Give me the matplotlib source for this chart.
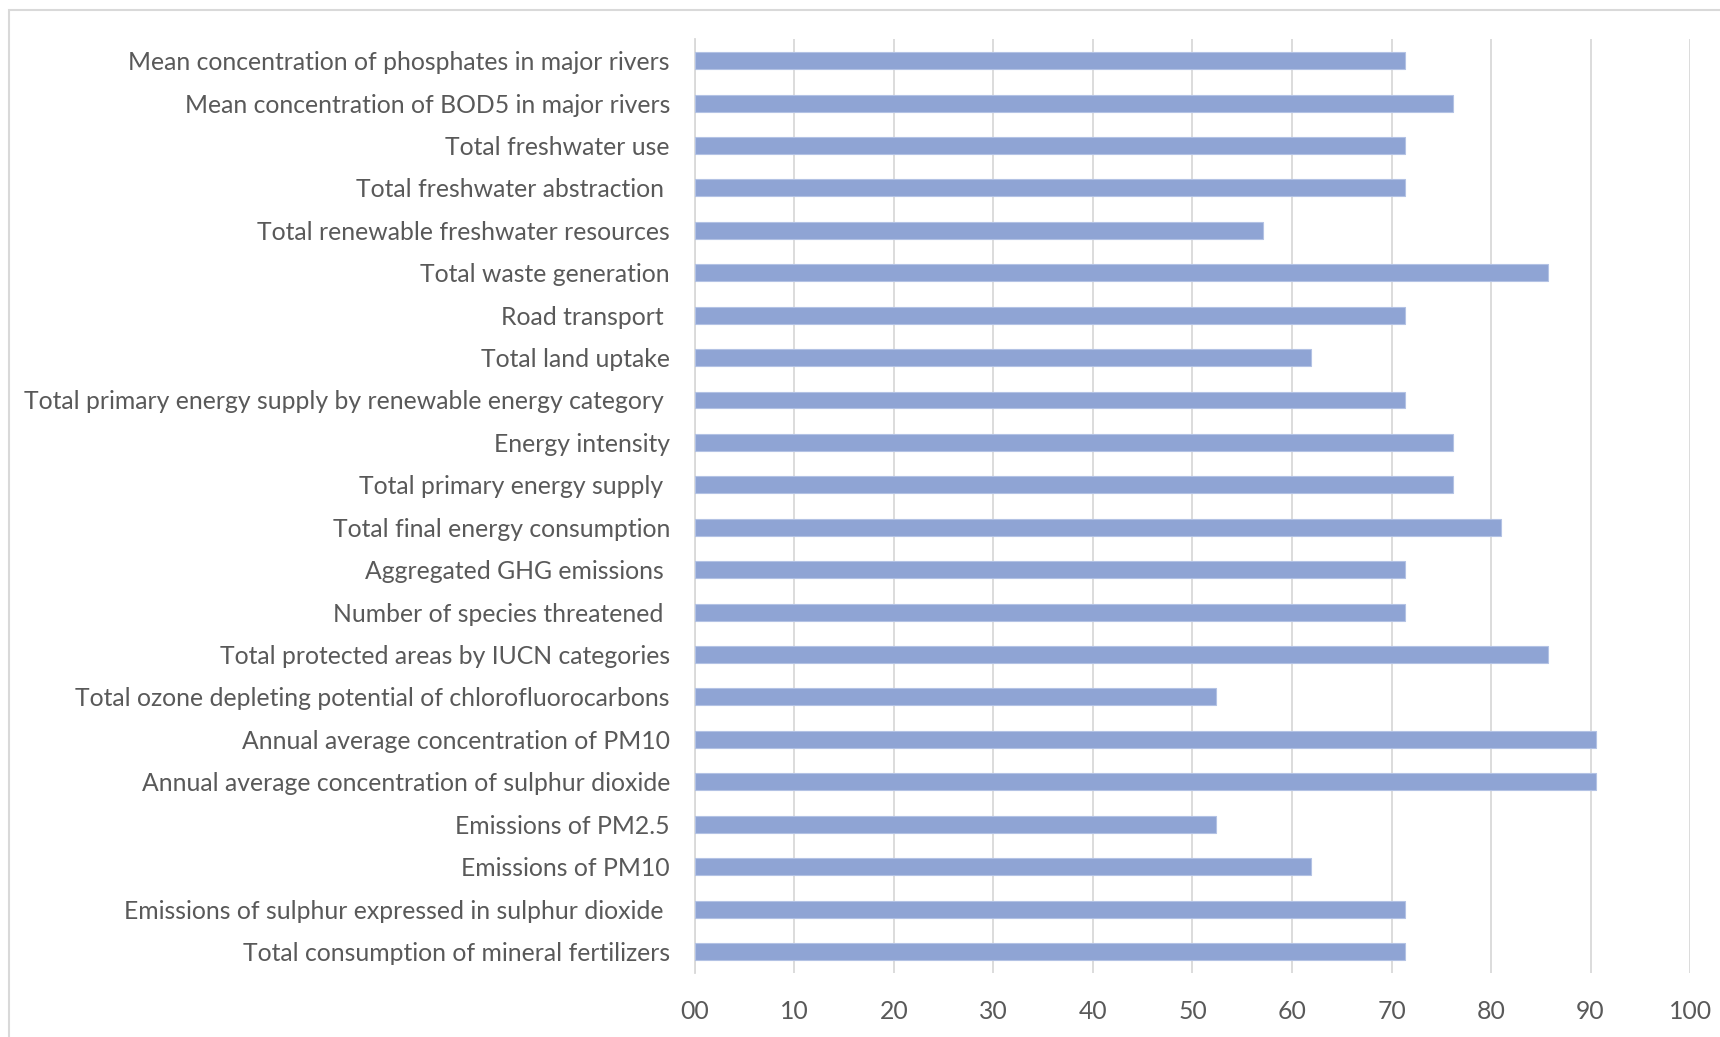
import matplotlib
matplotlib.use("Agg")
import matplotlib.pyplot as plt
from matplotlib.patches import Rectangle

plt.rcParams["font.family"] = ["Lato", "DejaVu Sans"]

# indicators, listed top to bottom as shown
indicators = [
    "Mean concentration of phosphates in major rivers",
    "Mean concentration of BOD5 in major rivers",
    "Total freshwater use",
    "Total freshwater abstraction ",
    "Total renewable freshwater resources",
    "Total waste generation",
    "Road transport ",
    "Total land uptake",
    "Total primary energy supply by renewable energy category ",
    "Energy intensity",
    "Total primary energy supply ",
    "Total final energy consumption",
    "Aggregated GHG emissions ",
    "Number of species threatened ",
    "Total protected areas by IUCN categories",
    "Total ozone depleting potential of chlorofluorocarbons",
    "Annual average concentration of PM10",
    "Annual average concentration of sulphur dioxide",
    "Emissions of PM2.5",
    "Emissions of PM10",
    "Emissions of sulphur expressed in sulphur dioxide ",
    "Total consumption of mineral fertilizers",
]
scores = [71.4, 76.2, 71.4, 71.4, 57.1, 85.7, 71.4, 61.9, 71.4, 76.2, 76.2,
          81.0, 71.4, 71.4, 85.7, 52.4, 90.5, 90.5, 52.4, 61.9, 71.4, 71.4]
xticks = [0, 10, 20, 30, 40, 50, 60, 70, 80, 90, 100]
xtick_labels = ["00", "10", "20", "30", "40", "50", "60", "70", "80", "90", "100"]

TEXT = "#595959"
GRID = "#d9d9d9"

fig = plt.figure(figsize=(17.2, 10.37), dpi=100)
ax = fig.add_axes([0.404, 0.062, 0.5786, 0.9])

ypos = list(range(len(indicators)))
ax.barh(ypos, scores, height=0.4, color="#8fa4d4", edgecolor="#b3c2e4",
        linewidth=0.8, zorder=3)

ax.set_ylim(len(indicators) - 0.5, -0.5)
ax.set_xlim(0, 100)
ax.set_yticks(ypos)
ax.set_yticklabels(indicators, fontsize=17.8, color=TEXT)
ax.set_xticks(xticks)
ax.set_xticklabels(xtick_labels, fontsize=17.8, color=TEXT)
ax.tick_params(axis="y", length=0, pad=18)
ax.tick_params(axis="x", length=0, pad=20)

ax.grid(axis="x", color=GRID, linewidth=1.3, zorder=0)
for side in ("top", "right", "bottom"):
    ax.spines[side].set_visible(False)
ax.spines["left"].set_color(GRID)
ax.spines["left"].set_linewidth(1.3)

# chart-area frame
fig.patches.append(Rectangle((9 / 1720, -0.1), 1.2, 1.1 - 10 / 1037,
                             transform=fig.transFigure, fill=False,
                             edgecolor=GRID, linewidth=1.5))

fig.savefig("out.png", dpi=100)
